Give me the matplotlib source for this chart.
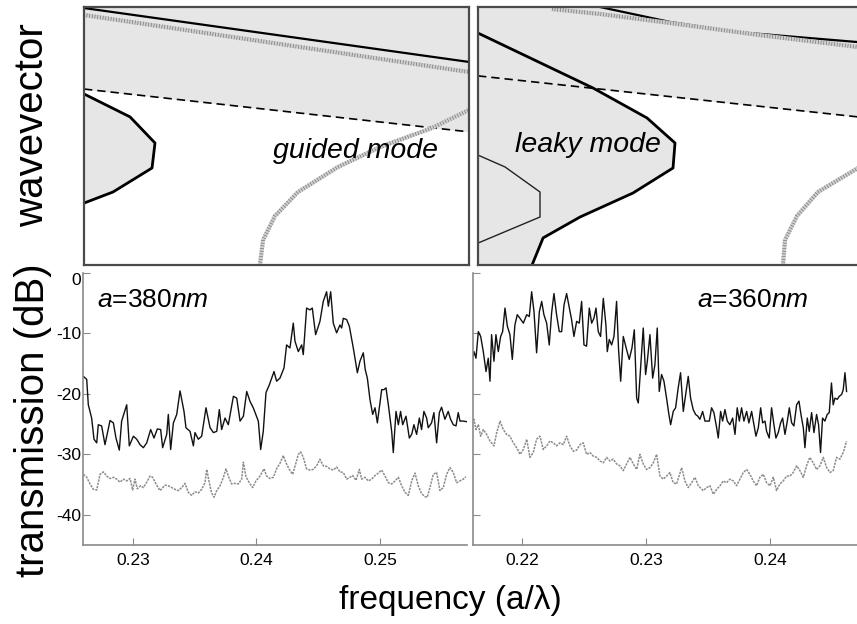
import matplotlib
matplotlib.use("Agg")
import matplotlib.pyplot as plt

plt.rcParams['font.family'] = ['Liberation Sans', 'DejaVu Sans']
plt.rcParams['mathtext.fontset'] = 'custom'
plt.rcParams['mathtext.rm'] = 'Liberation Sans'
plt.rcParams['mathtext.it'] = 'Liberation Sans:italic'

# ---- band diagrams (top), wavevector in normalised units 0..1 ----
tl_light_x = [0.22603, 0.25721]
tl_light_k = [0.996, 0.787]
tl_band_x = [0.22603, 0.25721]
tl_band_k = [0.969, 0.748]
tl_dash_x = [0.22603, 0.25721]
tl_dash_k = [0.682, 0.516]
tl_bump_x = [0.22603, 0.22976, 0.23178, 0.23154, 0.22838, 0.22603]
tl_bump_k = [0.663, 0.574, 0.473, 0.376, 0.283, 0.240]
tl_guided_x = [0.24028, 0.24053, 0.24150, 0.24336, 0.24660, 0.25000, 0.25421, 0.25721]
tl_guided_k = [0.0, 0.097, 0.190, 0.283, 0.380, 0.457, 0.531, 0.601]

tr_light_x = [0.22624, 0.23189, 0.23729, 0.24705]
tr_light_k = [1.0, 0.942, 0.903, 0.864]
tr_band_x = [0.22237, 0.22624, 0.23189, 0.23915, 0.24705]
tr_band_k = [0.992, 0.973, 0.938, 0.891, 0.845]
tr_dash_x = [0.2164, 0.24705]
tr_dash_k = [0.733, 0.574]
tr_leaky_x = [0.2164, 0.22568, 0.23003, 0.23229, 0.23213, 0.22890, 0.22463, 0.22165, 0.22076]
tr_leaky_k = [0.899, 0.686, 0.570, 0.473, 0.376, 0.279, 0.186, 0.105, 0.0]
tr_thin_x = [0.2164, 0.21858, 0.22140, 0.22140, 0.2164]
tr_thin_k = [0.426, 0.380, 0.283, 0.186, 0.085]
tr_guided_x = [0.24100, 0.24116, 0.24213, 0.24382, 0.24705]
tr_guided_k = [0.0, 0.097, 0.190, 0.283, 0.376]

# ---- transmission spectra (bottom) ----
f380 = [0.22598, 0.22625, 0.22638, 0.22665, 0.22684, 0.22706, 0.22719, 0.22746, 0.22773, 0.22814,
        0.22841, 0.22862, 0.22889, 0.22908, 0.22949, 0.22970, 0.23003, 0.23030, 0.23057, 0.23084,
        0.23111, 0.23143, 0.23170, 0.23197, 0.23224, 0.23240, 0.23273, 0.23286, 0.23305, 0.23327,
        0.23354, 0.23381, 0.23413, 0.23429, 0.23462, 0.23489, 0.23502, 0.23529, 0.23556, 0.23591,
        0.23624, 0.23651, 0.23678, 0.23699, 0.23718, 0.23745, 0.23772, 0.23813, 0.23840, 0.23867,
        0.23894, 0.23921, 0.23947, 0.23974, 0.24015, 0.24034, 0.24055, 0.24077, 0.24104, 0.24123,
        0.24142, 0.24163, 0.24190, 0.24223, 0.24244, 0.24271, 0.24298, 0.24312, 0.24339, 0.24366,
        0.24379, 0.24406, 0.24433, 0.24452, 0.24479, 0.24514, 0.24541, 0.24568, 0.24582, 0.24601,
        0.24622, 0.24649, 0.24676, 0.24690, 0.24703, 0.24730, 0.24752, 0.24784, 0.24817, 0.24838,
        0.24865, 0.24881, 0.24898, 0.24919, 0.24941, 0.24960, 0.24979, 0.24995, 0.25014, 0.25032,
        0.25049, 0.25068, 0.25095, 0.25108, 0.25130, 0.25149, 0.25167, 0.25184, 0.25211, 0.25238,
        0.25257, 0.25275, 0.25297, 0.25319, 0.25337, 0.25356, 0.25378, 0.25391, 0.25418, 0.25437,
        0.25459, 0.25481, 0.25499, 0.25526, 0.25553, 0.25572, 0.25594, 0.25616, 0.25634, 0.25648,
        0.25675, 0.25702]
t380 = [-17.1, -17.6, -21.8, -24.0, -27.5, -28.1, -25.1, -25.3, -28.4, -24.4,
        -24.8, -27.3, -29.3, -24.5, -21.8, -28.6, -27.0, -27.5, -28.4, -28.9,
        -28.1, -25.9, -27.3, -25.8, -25.9, -28.9, -26.7, -23.4, -29.2, -24.8,
        -23.4, -19.5, -22.9, -25.6, -26.2, -28.6, -26.4, -27.5, -27.0, -22.3,
        -25.6, -26.4, -26.2, -22.6, -25.9, -24.0, -25.1, -20.4, -20.7, -24.5,
        -23.7, -19.6, -21.2, -22.3, -24.5, -29.2, -26.2, -19.8, -18.5, -17.4,
        -16.3, -17.9, -17.4, -15.7, -11.9, -12.4, -8.3, -11.3, -13.0, -11.9,
        -13.5, -5.8, -6.1, -5.8, -10.2, -8.0, -4.7, -3.1, -5.5, -3.1,
        -8.3, -9.9, -8.6, -9.1, -7.5, -7.7, -8.8, -12.4, -16.5, -14.6,
        -13.2, -16.0, -17.4, -20.9, -23.4, -22.3, -24.8, -22.3, -19.3, -19.3,
        -19.0, -21.8, -26.2, -29.7, -22.9, -25.1, -22.9, -25.1, -23.7, -27.3,
        -26.7, -25.1, -26.7, -24.0, -25.9, -22.9, -24.0, -25.6, -24.8, -23.1,
        -28.1, -23.1, -22.2, -24.2, -22.9, -24.2, -25.1, -25.3, -23.1, -24.5,
        -24.5, -24.6]

f380_ref = [0.22598, 0.22625, 0.22652, 0.22679, 0.22706, 0.22733, 0.22760, 0.22787, 0.22814, 0.22841,
            0.22868, 0.22895, 0.22922, 0.22949, 0.22976, 0.22997, 0.23016, 0.23035, 0.23062, 0.23084,
            0.23111, 0.23138, 0.23159, 0.23186, 0.23219, 0.23259, 0.23286, 0.23313, 0.23340, 0.23367,
            0.23394, 0.23421, 0.23448, 0.23475, 0.23502, 0.23529, 0.23556, 0.23583, 0.23597, 0.23618,
            0.23637, 0.23656, 0.23678, 0.23705, 0.23732, 0.23753, 0.23772, 0.23799, 0.23826, 0.23853,
            0.23880, 0.23894, 0.23915, 0.23942, 0.23969, 0.23996, 0.24028, 0.24061, 0.24082, 0.24109,
            0.24136, 0.24163, 0.24190, 0.24217, 0.24239, 0.24266, 0.24293, 0.24320, 0.24339, 0.24358,
            0.24379, 0.24406, 0.24433, 0.24460, 0.24487, 0.24514, 0.24541, 0.24568, 0.24595, 0.24622,
            0.24649, 0.24676, 0.24703, 0.24730, 0.24757, 0.24779, 0.24806, 0.24833, 0.24852, 0.24879,
            0.24906, 0.24933, 0.24960, 0.24987, 0.25014, 0.25041, 0.25068, 0.25095, 0.25122, 0.25149,
            0.25176, 0.25203, 0.25230, 0.25257, 0.25284, 0.25310, 0.25337, 0.25364, 0.25383, 0.25405,
            0.25432, 0.25459, 0.25486, 0.25513, 0.25540, 0.25567, 0.25594, 0.25621, 0.25648, 0.25675,
            0.25696]
t380_ref = [-33.3, -33.8, -34.9, -35.8, -35.9, -33.3, -32.9, -33.6, -34.0, -33.8,
            -34.1, -34.6, -34.1, -34.4, -34.0, -35.9, -34.1, -35.7, -35.2, -35.5,
            -34.6, -33.6, -33.8, -34.9, -36.0, -35.1, -35.2, -35.5, -35.8, -36.0,
            -35.5, -34.8, -36.3, -36.8, -36.2, -36.4, -35.8, -34.7, -32.5, -34.7,
            -36.4, -37.1, -36.0, -35.2, -33.8, -32.4, -33.6, -34.9, -34.8, -34.9,
            -34.1, -31.3, -33.7, -34.7, -35.5, -34.4, -33.6, -32.4, -33.6, -34.0,
            -33.8, -32.4, -31.5, -30.2, -31.4, -32.5, -33.3, -31.4, -30.0, -29.6,
            -30.5, -32.4, -32.6, -32.5, -31.9, -30.8, -31.9, -32.0, -32.4, -32.6,
            -32.1, -32.9, -33.0, -34.1, -33.8, -33.5, -34.3, -32.5, -34.1, -33.8,
            -34.4, -34.1, -33.5, -33.1, -32.6, -33.6, -34.7, -34.9, -34.4, -33.8,
            -35.2, -36.3, -36.8, -34.4, -33.1, -35.2, -36.5, -37.0, -37.1, -35.5,
            -33.3, -33.0, -36.0, -35.5, -33.3, -32.2, -33.0, -34.7, -34.4, -34.1,
            -33.7]

f360 = [0.21594, 0.21613, 0.21629, 0.21648, 0.21667, 0.21688, 0.21710, 0.21728, 0.21742, 0.21755,
        0.21774, 0.21790, 0.21809, 0.21828, 0.21844, 0.21863, 0.21882, 0.21903, 0.21922, 0.21943,
        0.21962, 0.21984, 0.22011, 0.22038, 0.22059, 0.22078, 0.22097, 0.22118, 0.22140, 0.22159,
        0.22177, 0.22199, 0.22220, 0.22239, 0.22258, 0.22279, 0.22301, 0.22320, 0.22339, 0.22360,
        0.22382, 0.22400, 0.22419, 0.22441, 0.22462, 0.22481, 0.22500, 0.22521, 0.22543, 0.22562,
        0.22580, 0.22597, 0.22615, 0.22634, 0.22656, 0.22677, 0.22688, 0.22704, 0.22723, 0.22742,
        0.22763, 0.22779, 0.22796, 0.22817, 0.22844, 0.22865, 0.22887, 0.22906, 0.22925, 0.22938,
        0.22957, 0.22978, 0.22997, 0.23011, 0.23032, 0.23054, 0.23072, 0.23091, 0.23107, 0.23126,
        0.23145, 0.23166, 0.23185, 0.23199, 0.23220, 0.23239, 0.23260, 0.23279, 0.23301, 0.23322,
        0.23341, 0.23360, 0.23381, 0.23400, 0.23419, 0.23435, 0.23457, 0.23476, 0.23494, 0.23511,
        0.23529, 0.23548, 0.23570, 0.23583, 0.23602, 0.23618, 0.23637, 0.23656, 0.23677, 0.23699,
        0.23718, 0.23736, 0.23753, 0.23771, 0.23790, 0.23812, 0.23830, 0.23852, 0.23871, 0.23887,
        0.23906, 0.23925, 0.23941, 0.23960, 0.23973, 0.23994, 0.24013, 0.24032, 0.24048, 0.24067,
        0.24086, 0.24102, 0.24121, 0.24140, 0.24156, 0.24175, 0.24193, 0.24215, 0.24234, 0.24250,
        0.24269, 0.24282, 0.24301, 0.24317, 0.24336, 0.24355, 0.24376, 0.24392, 0.24408, 0.24424,
        0.24443, 0.24462, 0.24478, 0.24496, 0.24510, 0.24524, 0.24543, 0.24559, 0.24578, 0.24591,
        0.24605, 0.24618]
t360 = [-15.2, -13.0, -14.1, -9.7, -10.5, -13.0, -16.3, -14.1, -17.9, -10.2,
        -14.6, -10.2, -13.0, -10.5, -9.7, -5.8, -8.8, -10.2, -14.3, -8.6,
        -6.9, -7.5, -8.3, -6.9, -7.2, -3.1, -6.4, -13.2, -6.4, -4.7,
        -6.9, -8.3, -11.9, -6.6, -3.4, -6.9, -9.7, -9.7, -5.3, -3.4,
        -5.8, -7.7, -10.5, -8.0, -8.3, -4.7, -11.9, -12.1, -5.8, -8.3,
        -7.5, -5.8, -9.7, -10.5, -4.2, -8.6, -13.0, -11.0, -11.9, -10.5,
        -4.7, -12.7, -17.9, -10.5, -12.7, -14.3, -12.4, -9.4, -20.7, -21.5,
        -15.7, -9.1, -16.8, -14.6, -10.2, -17.4, -15.2, -9.1, -19.6, -16.8,
        -17.9, -20.7, -23.4, -25.1, -22.9, -22.3, -19.0, -16.5, -22.9, -19.8,
        -17.1, -20.7, -22.6, -23.4, -23.7, -24.2, -22.9, -24.5, -24.5, -24.5,
        -22.3, -23.1, -25.6, -27.3, -22.9, -24.5, -22.6, -24.5, -25.1, -24.0,
        -26.7, -22.3, -24.5, -22.3, -24.5, -22.9, -24.8, -22.9, -25.1, -27.0,
        -25.6, -22.3, -24.8, -24.5, -26.2, -27.3, -22.3, -25.1, -27.3, -26.4,
        -24.8, -24.0, -26.7, -24.5, -22.3, -24.8, -25.3, -21.8, -21.2, -23.4,
        -25.6, -28.9, -24.0, -26.2, -23.1, -26.4, -23.4, -25.1, -29.7, -24.0,
        -24.5, -23.4, -23.1, -18.2, -21.8, -20.7, -20.9, -20.4, -20.1, -19.3,
        -16.5, -19.6]

f360_ref = [0.21594, 0.21613, 0.21629, 0.21648, 0.21667, 0.21688, 0.21715, 0.21742, 0.21774, 0.21796,
            0.21823, 0.21849, 0.21876, 0.21903, 0.21930, 0.21957, 0.21984, 0.22011, 0.22038, 0.22064,
            0.22091, 0.22118, 0.22145, 0.22172, 0.22199, 0.22226, 0.22253, 0.22279, 0.22306, 0.22333,
            0.22360, 0.22387, 0.22414, 0.22441, 0.22468, 0.22494, 0.22521, 0.22548, 0.22575, 0.22602,
            0.22629, 0.22656, 0.22683, 0.22710, 0.22736, 0.22763, 0.22790, 0.22817, 0.22844, 0.22871,
            0.22898, 0.22925, 0.22951, 0.22978, 0.23005, 0.23032, 0.23059, 0.23086, 0.23113, 0.23140,
            0.23166, 0.23193, 0.23220, 0.23247, 0.23288, 0.23314, 0.23341, 0.23368, 0.23395, 0.23422,
            0.23462, 0.23489, 0.23516, 0.23543, 0.23570, 0.23597, 0.23623, 0.23650, 0.23677, 0.23704,
            0.23731, 0.23758, 0.23785, 0.23812, 0.23838, 0.23865, 0.23892, 0.23919, 0.23946, 0.23973,
            0.24000, 0.24027, 0.24053, 0.24080, 0.24107, 0.24134, 0.24161, 0.24188, 0.24215, 0.24242,
            0.24269, 0.24295, 0.24322, 0.24349, 0.24376, 0.24403, 0.24430, 0.24457, 0.24484, 0.24510,
            0.24537, 0.24564, 0.24591, 0.24618]
t360_ref = [-24.8, -24.2, -25.9, -25.1, -27.0, -25.9, -26.7, -27.8, -28.6, -26.4,
            -24.5, -25.9, -26.7, -27.0, -28.1, -28.9, -30.0, -29.2, -27.5, -30.5,
            -29.7, -27.5, -27.0, -29.2, -28.6, -27.8, -28.1, -28.6, -28.1, -28.4,
            -27.0, -28.6, -29.5, -29.3, -28.4, -28.1, -30.0, -29.7, -30.3, -30.5,
            -31.1, -31.4, -30.5, -31.1, -30.8, -31.6, -31.9, -32.7, -31.6, -30.5,
            -31.6, -32.5, -30.0, -31.6, -32.5, -32.2, -31.4, -30.0, -33.6, -34.1,
            -33.6, -33.0, -34.7, -34.9, -32.2, -34.4, -35.5, -34.7, -33.8, -35.2,
            -36.0, -35.5, -35.2, -36.6, -35.8, -35.2, -34.4, -34.7, -34.1, -34.4,
            -35.2, -34.1, -33.0, -32.5, -33.3, -34.4, -35.2, -33.8, -33.3, -34.7,
            -35.2, -33.8, -36.0, -34.9, -34.4, -33.6, -33.6, -33.0, -31.9, -32.7,
            -33.8, -31.9, -30.5, -31.4, -32.5, -31.9, -30.5, -32.2, -33.0, -32.7,
            -30.5, -30.8, -29.7, -27.8]

ytick_vals = [0, -10, -20, -30, -40]
xticks_380 = [0.23, 0.24, 0.25]
xticks_360 = [0.22, 0.23, 0.24]

FILL = '#e6e6e6'
W, H = 857, 624


def pos(x0, x1, y0, y1):
    # pixel box -> figure fraction
    return [x0 / W, 1 - y1 / H, (x1 - x0) / W, (y1 - y0) / H]


def hatched(ax, x, y):
    ax.plot(x, y, color='#cfcfcf', lw=3.0, solid_capstyle='butt', zorder=3)
    ax.plot(x, y, color='#707070', lw=3.0, ls=(0, (0.15, 0.5)),
            dash_capstyle='butt', zorder=3)


def band_axes(ax):
    ax.set_xticks([])
    ax.set_yticks([])
    ax.set_ylim(0, 1)
    for s in ax.spines.values():
        s.set_color('#4a4a4a')
        s.set_linewidth(1.6)
        s.set_zorder(5)


fig = plt.figure(figsize=(8.57, 6.24), dpi=100)

# top left
ax1 = fig.add_axes(pos(84, 469, 7, 265))
band_axes(ax1)
ax1.set_xlim(0.22603, 0.25721)
ax1.fill_between(tl_dash_x, tl_dash_k, 1, color=FILL, lw=0)
ax1.fill(tl_bump_x, tl_bump_k, color=FILL, lw=0)
ax1.plot(tl_bump_x, tl_bump_k, color='k', lw=2)
ax1.plot(tl_dash_x, tl_dash_k, color='k', lw=1.2, ls=(0, (5, 3)))
ax1.plot(tl_light_x, tl_light_k, color='k', lw=1.6)
hatched(ax1, tl_band_x, tl_band_k)
hatched(ax1, tl_guided_x, tl_guided_k)
ax1.text(0.491, 0.44, 'guided mode', transform=ax1.transAxes, fontsize=20.5,
         style='italic', ha='left', va='center', zorder=6)

# top right
ax2 = fig.add_axes(pos(478, 858, 7, 265))
band_axes(ax2)
ax2.set_xlim(0.2164, 0.24705)
ax2.fill_between(tr_dash_x, tr_dash_k, 1, color=FILL, lw=0)
ax2.fill(tr_leaky_x + [0.2164], tr_leaky_k + [0.0], color=FILL, lw=0)
ax2.plot(tr_leaky_x, tr_leaky_k, color='k', lw=2)
ax2.plot(tr_thin_x, tr_thin_k, color='#222222', lw=1)
ax2.plot(tr_dash_x, tr_dash_k, color='k', lw=1.2, ls=(0, (5, 3)))
ax2.plot(tr_light_x, tr_light_k, color='k', lw=1.6)
hatched(ax2, tr_band_x, tr_band_k)
hatched(ax2, tr_guided_x, tr_guided_k)
ax2.text(0.097, 0.465, 'leaky mode', transform=ax2.transAxes, fontsize=20.5,
         style='italic', ha='left', va='center', zorder=6)


def spec_axes(ax, xlim, xticks, show_ylabels):
    ax.set_xlim(*xlim)
    ax.set_ylim(-45, 0)
    ax.spines['top'].set_visible(False)
    ax.spines['right'].set_visible(False)
    for s in ('left', 'bottom'):
        ax.spines[s].set_color('#8a8a8a')
        ax.spines[s].set_linewidth(1.2)
    ax.set_xticks(xticks)
    ax.set_xticklabels(['%.2f' % v for v in xticks])
    ax.set_yticks(ytick_vals)
    ax.tick_params(direction='in', length=5, color='#8a8a8a', labelsize=12.5, pad=1.5)
    ax.tick_params(axis='x', pad=6)
    if show_ylabels:
        ax.set_yticklabels(['%d' % v for v in ytick_vals])
        ax.get_yticklabels()[0].set_va('top')
    else:
        ax.set_yticklabels([])


ax3 = fig.add_axes(pos(83, 467, 273, 545))
spec_axes(ax3, (0.22595, 0.25705), xticks_380, True)
ax3.plot(f380_ref, t380_ref, color='#8c8c8c', lw=1.1, ls=(0, (1.5, 0.7)))
ax3.plot(f380, t380, color='#111111', lw=1.0)
ax3.text(0.036, 0.90, '$a$=380$nm$', transform=ax3.transAxes, fontsize=19,
         ha='left', va='center')

ax4 = fig.add_axes(pos(473, 857, 273, 545))
spec_axes(ax4, (0.21605, 0.24702), xticks_360, False)
ax4.plot(f360_ref, t360_ref, color='#8c8c8c', lw=1.1, ls=(0, (1.5, 0.7)))
ax4.plot(f360, t360, color='#111111', lw=1.0)
ax4.text(0.583, 0.90, '$a$=360$nm$', transform=ax4.transAxes, fontsize=19,
         ha='left', va='center')

fig.text(32 / W, 1 - 125 / H, 'wavevector', rotation=90, fontsize=29,
         ha='center', va='center')
fig.text(33 / W, 1 - 420 / H, 'transmission (dB)', rotation=90, fontsize=29,
         ha='center', va='center')
fig.text(450 / W, 1 - 600 / H, 'frequency (a/λ)', fontsize=24,
         ha='center', va='center')

fig.savefig('out.png', dpi=100)
